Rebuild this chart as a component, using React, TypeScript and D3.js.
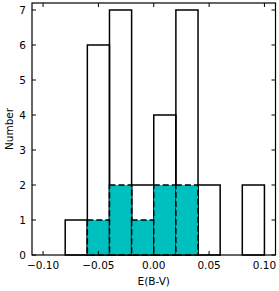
import React from 'react';
import * as d3 from 'd3';

// bin edges (width 0.02) and counts
const binStarts = [-0.08, -0.06, -0.04, -0.02, 0.0, 0.02, 0.04, 0.06, 0.08];
const allCounts = [1, 6, 7, 2, 4, 7, 2, 0, 2];
const subStarts = [-0.06, -0.04, -0.02, 0.0, 0.02];
const subCounts = [1, 2, 1, 2, 2];
const binWidth = 0.02;

const xTicks = [-0.1, -0.05, 0, 0.05, 0.1];
const yTicks = [0, 1, 2, 3, 4, 5, 6, 7];

const W = 279;
const H = 291;
const margin = { left: 32, right: 3.5, top: 3, bottom: 36 };

const App: React.FC = () => {
  const x = d3.scaleLinear().domain([-0.11, 0.11]).range([margin.left, W - margin.right]);
  const y = d3.scaleLinear().domain([0, 7.2]).range([H - margin.bottom, margin.top]);
  const fmt = (v: number) => {
    const s = Math.abs(v).toFixed(2);
    return v < -1e-9 ? '\u2212' + s : s;
  };
  const font = 'DejaVu Sans, sans-serif';
  const x0 = x.range()[0], x1 = x.range()[1];
  const y0 = y.range()[0], y1 = y.range()[1];
  const tl = 4;

  return (
    <svg width={W} height={H} style={{ position: 'absolute', left: 0, top: 0 }} fontFamily={font}>
      <rect width={W} height={H} fill="#fff" />
      {/* all objects */}
      {binStarts.map((b, i) => allCounts[i] > 0 && (
        <rect key={'a' + i} x={x(b)} y={y(allCounts[i])} width={x(b + binWidth) - x(b)}
          height={y(0) - y(allCounts[i])} fill="none" stroke="#000" strokeWidth={1.5} />
      ))}
      {/* subset */}
      {subStarts.map((b, i) => (
        <rect key={'s' + i} x={x(b)} y={y(subCounts[i])} width={x(b + binWidth) - x(b)}
          height={y(0) - y(subCounts[i])} fill="#00bfbf" stroke="#000" strokeWidth={1.5}
          strokeDasharray="6,3" />
      ))}
      {/* frame */}
      <rect x={x0} y={y1} width={x1 - x0} height={y0 - y1} fill="none" stroke="#000" strokeWidth={1.2} />
      {xTicks.map(t => (
        <g key={'x' + t}>
          <line x1={x(t)} x2={x(t)} y1={y0} y2={y0 - tl} stroke="#000" strokeWidth={1} />
          <line x1={x(t)} x2={x(t)} y1={y1} y2={y1 + tl} stroke="#000" strokeWidth={1} />
          <text x={x(t)} y={y0 + 13.5} fontSize={10.5} textAnchor="middle">{fmt(t)}</text>
        </g>
      ))}
      {yTicks.map(t => (
        <g key={'y' + t}>
          <line x1={x0} x2={x0 + tl} y1={y(t)} y2={y(t)} stroke="#000" strokeWidth={1} />
          <line x1={x1} x2={x1 - tl} y1={y(t)} y2={y(t)} stroke="#000" strokeWidth={1} />
          <text x={x0 - 6} y={y(t)} dy="0.36em" fontSize={10.5} textAnchor="end">{t}</text>
        </g>
      ))}
      <text x={(x0 + x1) / 2} y={H - 6} fontSize={10.5} textAnchor="middle">E(B-V)</text>
      <text transform={`translate(12.5,${(y0 + y1) / 2}) rotate(-90)`} fontSize={10.5} textAnchor="middle">Number</text>
    </svg>
  );
};

export default App;
